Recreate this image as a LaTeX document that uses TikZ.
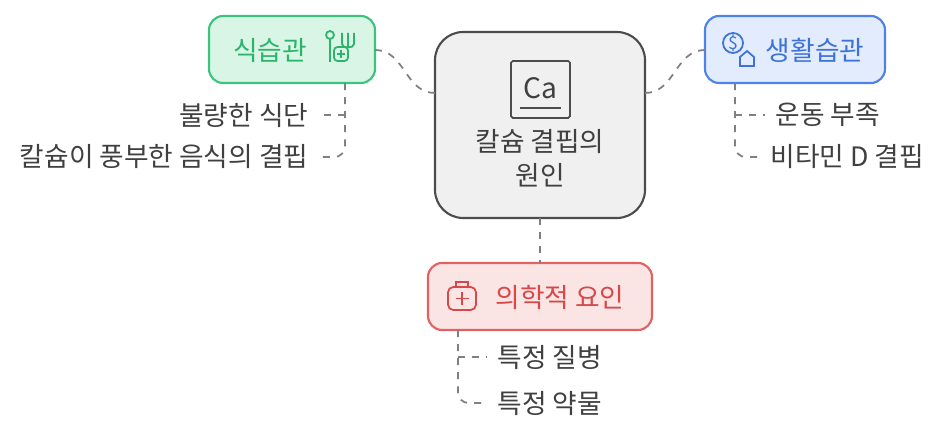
\documentclass[tikz,border=0pt]{standalone}
\usepackage{fontspec}
\setmainfont{Noto Sans CJK KR}
\definecolor{gS}{HTML}{3CC47C}\definecolor{gF}{HTML}{D8F5E5}\definecolor{gT}{HTML}{2DB46C}
\definecolor{bS}{HTML}{4D82E6}\definecolor{bF}{HTML}{E2ECFC}\definecolor{bT}{HTML}{3D72D8}
\definecolor{rS}{HTML}{E06262}\definecolor{rF}{HTML}{FBE4E4}\definecolor{rT}{HTML}{D84848}
\begin{document}
\begin{tikzpicture}[x=0.01cm,y=-0.01cm,
 txt/.style={font=\fontsize{7.6}{9}\selectfont,text=black!75,inner sep=0},
 dl/.style={draw=black!50,line width=0.5pt,dash pattern=on 2pt off 2pt,rounded corners=3pt},
 box/.style={draw,rounded corners=4pt,line width=0.6pt}]
\useasboundingbox (0,0) rectangle (945,437);
% center
\draw[box,draw=black!70,fill=black!6,rounded corners=8pt] (435,32) rectangle (645,218);
\draw[black!70,line width=0.5pt,rounded corners=0.5pt] (511,61) rectangle (570,118);
\draw[black!70,line width=0.5pt] (520,108) -- (561,108);
\node[txt,font=\fontsize{8}{8}\selectfont] at (540,88) {Ca};
\node[txt,align=center,font=\fontsize{7.6}{9.8}\selectfont] at (540,158) {칼슘 결핍의\\원인};
% left
\draw[box,draw=gS,fill=gF] (209,16) rectangle (375,83);
\node[txt,text=gT] at (270,50) {식습관};
\begin{scope}[gT,line width=0.5pt]
\draw (330,35) circle (4);
\draw (330,39) -- (330,62);
\draw (348,33) -- (348,48) (342,33) -- (342,44) to[out=-90,in=-90] (354,44) -- (354,33);
\draw[rounded corners=1pt] (334,47) rectangle (348,61);
\draw (341,50)--(341,58) (337,54)--(345,54);
\end{scope}
% right
\draw[box,draw=bS,fill=bF] (705,16) rectangle (885,83);
\node[txt,text=bT] at (815,50) {생활습관};
\begin{scope}[bT,line width=0.5pt]
\draw (733,43) circle (10);
\node[txt,text=bT,font=\fontsize{5}{6}\selectfont] at (733,43) {\$};
\draw (740,66) -- (740,57) -- (747,51) -- (754,57) -- (754,66) -- cycle;
\end{scope}
% bottom
\draw[box,draw=rS,fill=rF] (428,263) rectangle (652,330);
\node[txt,text=rT] at (560,297) {의학적 요인};
\begin{scope}[rT,line width=0.5pt]
\draw[rounded corners=1.5pt] (448,287) rectangle (476,310);
\draw (456,287) -- (456,282) -- (468,282) -- (468,287);
\draw (462,292)--(462,305) (455.5,298.5)--(468.5,298.5);
\end{scope}
\coordinate (cl) at (435,93); \coordinate (lb) at (375,50);
\coordinate (cr) at (645,93); \coordinate (rb) at (705,50);
\coordinate (cb) at (540,218); \coordinate (bb) at (540,263);
\draw[dl] (cl) .. controls (405,93) and (405,50) .. (lb);
\draw[dl] (cr) .. controls (675,93) and (675,50) .. (rb);
\draw[dl] (cb) -- (bb);
% left children
\node[txt,anchor=east] (l1) at (309,115) {불량한 식단};
\node[txt,anchor=east] (l2) at (309,157) {칼슘이 풍부한 음식의 결핍};
\draw[dl] (345,83) -- (345,157) -- (318,157);
\draw[dl] (345,115) -- (320,115);
% right children
\node[txt,anchor=west] (r1) at (775,115) {운동 부족};
\node[txt,anchor=west] (r2) at (770,157) {비타민 D 결핍};
\draw[dl] (735,83) -- (735,157) -- (762,157);
\draw[dl] (735,115) -- (765,115);
% bottom children
\node[txt,anchor=west] (b1) at (497,357) {특정 질병};
\node[txt,anchor=west] (b2) at (497,403) {특정 약물};
\draw[dl] (458,330) -- (458,403) -- (487,403);
\draw[dl] (458,357) -- (487,357);
\end{tikzpicture}
\end{document}
